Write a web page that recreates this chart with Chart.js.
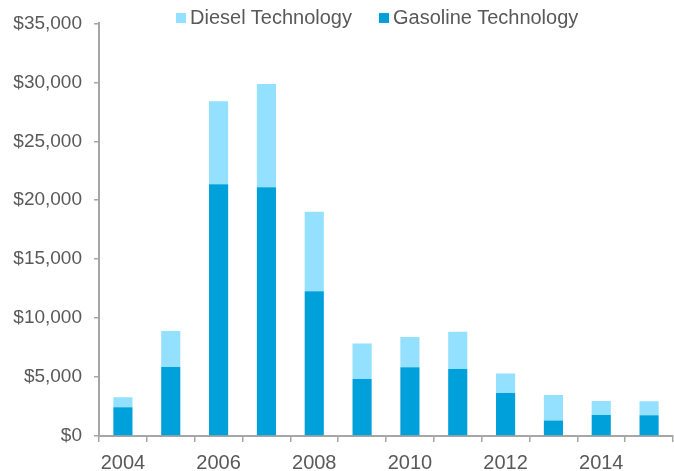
<!DOCTYPE html>
<html>
<head>
<meta charset="utf-8">
<script src="https://cdn.jsdelivr.net/npm/chart.js@4.4.1/dist/chart.umd.min.js"></script>
<style>
    body { margin: 0; background: #fff; }
    #wrap { position: relative; width: 674px; height: 471px; }
    .legend { position: absolute; top: 6px; font-family: "Liberation Sans", Arial, sans-serif;
        font-size: 20px; color: #595959; white-space: nowrap; line-height: 22px; }
    .legend i { display: inline-block; width: 10px; height: 10px; margin-right: 4px; vertical-align: 1px; }
</style>
</head>
<body>
<div id="wrap">
    <canvas id="costChart" width="674" height="471"></canvas>
</div>
<script>
const years = ['2004', '2005', '2006', '2007', '2008', '2009', '2010', '2011', '2012', '2013', '2014', '2015'];
const gasoline = [2430, 5850, 21350, 21100, 12270, 4830, 5830, 5690, 3640, 1310, 1790, 1770];
const diesel = [850, 3050, 7050, 8750, 6750, 3010, 2560, 3150, 1670, 2160, 1170, 1170];
const yTicks = [0, 5000, 10000, 15000, 20000, 25000, 30000, 35000];

const gasColor = '#00A0DA';
const dieselColor = '#93E1FF';
const textColor = '#595959';
const axisColor = '#A6A6A6';

document.addEventListener('DOMContentLoaded', () => {
    const wrap = document.getElementById('wrap');
    [['Diesel Technology', dieselColor, 176], ['Gasoline Technology', gasColor, 379]].forEach(([name, col, left]) => {
        const item = document.createElement('div');
        item.className = 'legend';
        item.style.left = left + 'px';
        const box = document.createElement('i');
        box.style.background = col;
        item.appendChild(box);
        item.appendChild(document.createTextNode(name));
        wrap.appendChild(item);
    });

    const ctx = document.getElementById('costChart').getContext('2d');
    new Chart(ctx, {
        type: 'bar',
        data: {
            labels: years,
            datasets: [{
                label: 'Gasoline Technology',
                data: gasoline,
                backgroundColor: gasColor,
                categoryPercentage: 1,
                barPercentage: 0.4
            }, {
                label: 'Diesel Technology',
                data: diesel,
                backgroundColor: dieselColor,
                categoryPercentage: 1,
                barPercentage: 0.4
            }]
        },
        options: {
            responsive: false,
            animation: false,
            layout: { padding: { top: 16, right: 1, left: 0, bottom: 0 } },
            plugins: { legend: { display: false }, tooltip: { enabled: false } },
            scales: {
                x: {
                    stacked: true,
                    afterFit: (s) => { s.height = 35; },
                    border: { color: axisColor, width: 2 },
                    grid: { drawOnChartArea: false, color: axisColor, tickLength: 6, lineWidth: 1.5 },
                    ticks: {
                        autoSkip: false,
                        maxRotation: 0,
                        padding: 9,
                        color: textColor,
                        font: { family: '"Liberation Sans", Arial, sans-serif', size: 20 },
                        callback: (v, i) => (i % 2 === 0 ? years[i] : '')
                    }
                },
                y: {
                    stacked: true,
                    min: 0,
                    max: 35000,
                    afterFit: (s) => { s.width = 99; },
                    afterBuildTicks: (s) => { s.ticks = yTicks.map(v => ({ value: v })); },
                    border: { color: axisColor, width: 2 },
                    grid: { drawOnChartArea: false, color: axisColor, tickLength: 5, lineWidth: 1.5 },
                    ticks: {
                        padding: 12,
                        color: textColor,
                        font: { family: '"Liberation Sans", Arial, sans-serif', size: 19 },
                        callback: (v) => '$' + v.toLocaleString('en-US')
                    }
                }
            }
        }
    });
});
</script>
</body>
</html>
